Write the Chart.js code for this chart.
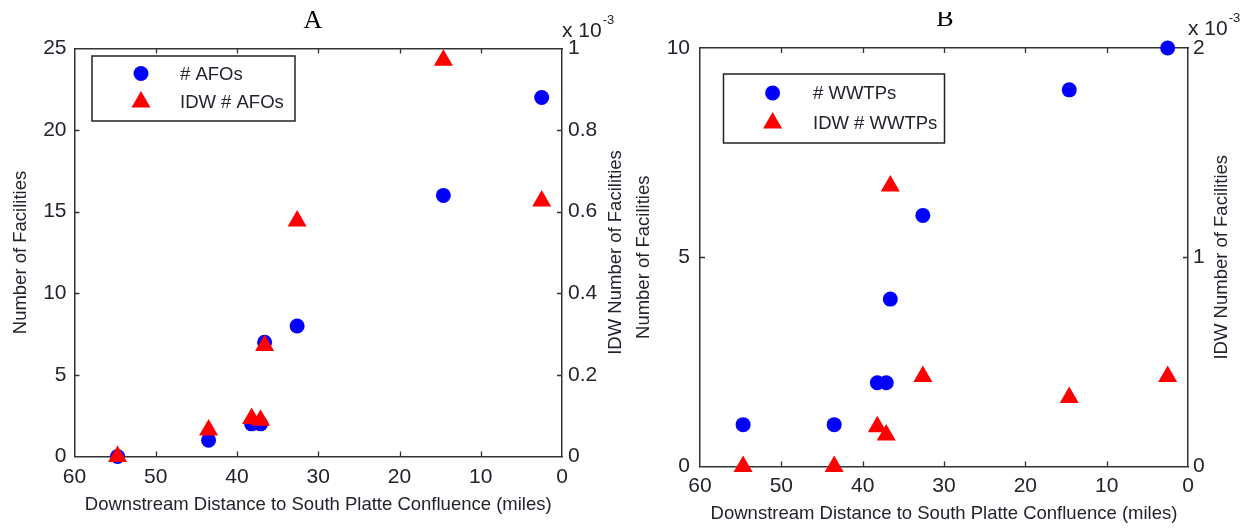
<!DOCTYPE html>
<html><head><meta charset="utf-8">
<script src="https://cdn.jsdelivr.net/npm/chart.js@4.4.0/dist/chart.umd.min.js"></script>
<style>
html,body{margin:0;padding:0;background:#fff;}
#wrap{position:relative;width:1255px;height:529px;overflow:hidden;background:#fff;}
.panel{position:absolute;top:0;height:529px;}
#pa{left:0;width:627px;}
#pb{left:627px;width:628px;}
</style></head><body>
<div id="wrap">
  <div class="panel" id="pa"><canvas id="ca"></canvas></div>
  <div class="panel" id="pb"><canvas id="cb"></canvas></div>
</div>
<script>
// ---------- data ----------
const distances   = [54.7, 43.5, 38.2, 37.1, 36.6, 32.6, 14.6, 2.5];   // miles
const afoCounts   = [0, 1, 2, 2, 7, 8, 16, 22];
const afoIdw      = [0, 0.065e-3, 0.093e-3, 0.089e-3, 0.272e-3, 0.577e-3, 0.971e-3, 0.626e-3];
const wwtpCounts  = [1, 1, 2, 2, 4, 6, 9, 10];
const wwtpIdw     = [0, 0, 0.19e-3, 0.15e-3, 1.34e-3, 0.43e-3, 0.33e-3, 0.43e-3];

const xTickValues        = [0, 10, 20, 30, 40, 50, 60];
const afoTickValues      = [0, 5, 10, 15, 20, 25];
const afoIdwTickValues   = [0, 0.2e-3, 0.4e-3, 0.6e-3, 0.8e-3, 1e-3];
const wwtpTickValues     = [0, 5, 10];
const wwtpIdwTickValues  = [0, 1e-3, 2e-3];

const xTitle = 'Downstream Distance to South Platte Confluence (miles)';
const leftTitle = 'Number of Facilities';
const rightTitle = 'IDW Number of Facilities';

// ---------- styling ----------
const SANS = '"Liberation Sans", Arial, Helvetica, sans-serif';
const SERIF = '"Liberation Serif", "Times New Roman", serif';
const INK = '#23232d';
const AXIS = '#333333';
const TICK = 5;

function fmtExp(v) { return String(+(v * 1000).toFixed(2)); }

const decor = {
  id: 'decor',
  afterDraw(chart, args, o) {
    const {ctx, chartArea: ca, scales} = chart;
    ctx.save();
    // inward tick marks (MATLAB style)
    ctx.strokeStyle = AXIS; ctx.lineWidth = 1.3;
    ctx.beginPath();
    scales.x.ticks.forEach(t => {
      const px = Math.round(scales.x.getPixelForValue(t.value)) + 0.5;
      if (px <= ca.left + 2 || px >= ca.right - 2) return;
      ctx.moveTo(px, ca.bottom); ctx.lineTo(px, ca.bottom - TICK);
      ctx.moveTo(px, ca.top); ctx.lineTo(px, ca.top + TICK);
    });
    scales.y.ticks.forEach(t => {
      const py = Math.round(scales.y.getPixelForValue(t.value)) + 0.5;
      if (py <= ca.top + 2 || py >= ca.bottom - 2) return;
      ctx.moveTo(ca.left, py); ctx.lineTo(ca.left + TICK, py);
    });
    scales.y1.ticks.forEach(t => {
      const py = Math.round(scales.y1.getPixelForValue(t.value)) + 0.5;
      if (py <= ca.top + 2 || py >= ca.bottom - 2) return;
      ctx.moveTo(ca.right, py); ctx.lineTo(ca.right - TICK, py);
    });
    ctx.stroke();

    // boxed legend inside the plot
    const L = o.legend;
    ctx.fillStyle = '#ffffff';
    ctx.fillRect(L.x, L.y, L.w, L.h);
    ctx.strokeStyle = '#222'; ctx.lineWidth = 1.5;
    ctx.strokeRect(L.x, L.y, L.w, L.h);
    ctx.font = '18.5px ' + SANS;
    ctx.textBaseline = 'middle'; ctx.textAlign = 'left';
    chart.data.datasets.forEach((ds, i) => {
      const yy = L.rows[i];
      ctx.fillStyle = ds.backgroundColor;
      if (Chart.helpers && Chart.helpers.drawPoint) {
        Chart.helpers.drawPoint(ctx, {pointStyle: ds.pointStyle, radius: ds.pointRadius, borderWidth: 0, rotation: 0}, L.markerX, yy);
      }
      ctx.fillStyle = INK;
      ctx.fillText(ds.label, L.textX, yy + 1);
    });

    // right axis title (reads bottom-to-top)
    ctx.save();
    ctx.translate(o.rightTitleX, (ca.top + ca.bottom) / 2);
    ctx.rotate(-Math.PI / 2);
    ctx.font = '18.5px ' + SANS;
    ctx.fillStyle = INK; ctx.textAlign = 'center'; ctx.textBaseline = 'middle';
    ctx.fillText(rightTitle, 0, 0);
    ctx.restore();

    // exponent label "x 10^-3"
    ctx.font = '21px ' + SANS;
    ctx.fillStyle = INK; ctx.textAlign = 'left'; ctx.textBaseline = 'alphabetic';
    const base = 'x 10';
    ctx.fillText(base, ca.right, o.expBaseline);
    const w = ctx.measureText(base).width;
    ctx.font = '13px ' + SANS;
    ctx.fillText('-3', ca.right + w + 1, o.expBaseline - 13);

    // panel title
    ctx.save();
    if (o.titleClip) { ctx.beginPath(); ctx.rect(0, o.titleClip, chart.width, 60); ctx.clip(); }
    ctx.font = '26px ' + SERIF;
    ctx.fillStyle = '#000'; ctx.textAlign = 'center'; ctx.textBaseline = 'alphabetic';
    ctx.fillText(o.title, o.titleX, o.titleBaseline);
    ctx.restore();

    ctx.restore();
  }
};

function setTicks(values) { return (scale) => { scale.ticks = values.map(v => ({value: v})); }; }

function makePanel(canvasId, p) {
  const circleSet = {
    label: p.labels[0],
    data: distances.map((d, i) => ({x: d, y: p.counts[i]})),
    yAxisID: 'y', pointStyle: 'circle', pointRadius: 7.5, pointHoverRadius: 7.5,
    backgroundColor: '#0000ff', borderColor: '#0000ff', borderWidth: 0, order: 2, clip: false
  };
  const triSet = {
    label: p.labels[1],
    data: distances.map((d, i) => ({x: d, y: p.idw[i]})),
    yAxisID: 'y1', pointStyle: 'triangle', pointRadius: 11, pointHoverRadius: 11,
    backgroundColor: '#ff0000', borderColor: '#ff0000', borderWidth: 0, order: 1, clip: false
  };
  const tickFont = {family: SANS, size: 21};
  const titleFont = {family: SANS, size: 18.5};
  return new Chart(document.getElementById(canvasId), {
    type: 'scatter',
    data: {datasets: [circleSet, triSet]},
    plugins: [decor],
    options: {
      responsive: true, maintainAspectRatio: false, animation: false, events: [],
      layout: {padding: {top: p.top, left: 0, right: 0, bottom: 0}},
      plugins: {
        legend: {display: false}, tooltip: {enabled: false}, title: {display: false},
        decor: p.decor
      },
      scales: {
        x: {
          type: 'linear', position: 'bottom', min: 0, max: 60, reverse: true,
          afterBuildTicks: setTicks(xTickValues),
          afterFit: (s) => { s.height = p.xHeight; },
          grid: {display: false, drawTicks: false},
          border: {display: true, color: AXIS, width: 1.5},
          ticks: {font: tickFont, color: INK, padding: p.xPad, maxRotation: 0, autoSkip: false},
          title: {display: true, text: xTitle, font: titleFont, color: INK, padding: {top: 0, bottom: p.xTitlePad}}
        },
        x2: {
          type: 'linear', position: 'top', min: 0, max: 60, reverse: true,
          afterFit: (s) => { s.height = 0; },
          grid: {display: false, drawTicks: false},
          border: {display: true, color: AXIS, width: 1.5},
          ticks: {display: false}
        },
        y: {
          type: 'linear', position: 'left', min: 0, max: p.leftTicks[p.leftTicks.length - 1],
          afterBuildTicks: setTicks(p.leftTicks),
          afterFit: (s) => { s.width = p.leftWidth; },
          grid: {display: false, drawTicks: false},
          border: {display: true, color: AXIS, width: 1.5},
          ticks: {font: tickFont, color: INK, padding: p.yPad},
          title: {display: true, text: leftTitle, font: titleFont, color: INK, padding: {top: p.yTitlePad, bottom: 0}}
        },
        y1: {
          type: 'linear', position: 'right', min: 0, max: p.rightTicks[p.rightTicks.length - 1],
          afterBuildTicks: setTicks(p.rightTicks),
          afterFit: (s) => { s.width = p.rightWidth; },
          grid: {display: false, drawTicks: false},
          border: {display: true, color: AXIS, width: 1.5},
          ticks: {font: tickFont, color: INK, padding: p.y1Pad, callback: (v) => fmtExp(v)}
        }
      }
    }
  });
}

makePanel('ca', {
  counts: afoCounts, idw: afoIdw, labels: ['# AFOs', 'IDW # AFOs'],
  leftTicks: afoTickValues, rightTicks: afoIdwTickValues,
  top: 48.5, xHeight: 72.5, leftWidth: 74.5, rightWidth: 65,
  xPad: 8, xTitlePad: 13, yPad: 8, yTitlePad: 10, y1Pad: 6,
  decor: {
    legend: {x: 92, y: 56, w: 203, h: 65, markerX: 141, textX: 180, rows: [73.5, 102]},
    rightTitleX: 616, expBaseline: 37, title: 'A', titleX: 313, titleBaseline: 28, titleClip: 0
  }
});

makePanel('cb', {
  counts: wwtpCounts, idw: wwtpIdw, labels: ['# WWTPs', 'IDW # WWTPs'],
  leftTicks: wwtpTickValues, rightTicks: wwtpIdwTickValues,
  top: 48, xHeight: 62.5, leftWidth: 73, rightWidth: 67,
  xPad: 7, xTitlePad: 3.5, yPad: 10, yTitlePad: 6, y1Pad: 5,
  decor: {
    legend: {x: 96.5, y: 74, w: 221, h: 69, markerX: 145.6, textX: 186, rows: [93, 123]},
    rightTitleX: 595, expBaseline: 35, title: 'B', titleX: 318, titleBaseline: 25.5, titleClip: 12
  }
});
</script>
</body></html>
